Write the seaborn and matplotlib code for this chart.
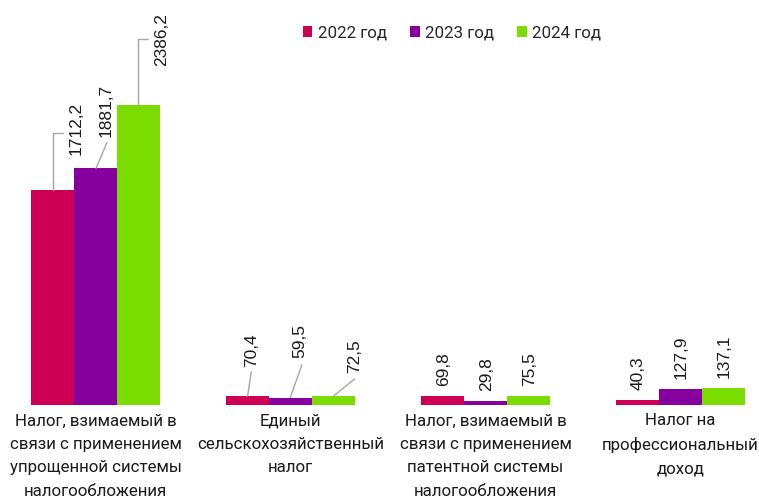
import pandas as pd
import seaborn as sns
import matplotlib.pyplot as plt
import numpy as np

# data
categories = ["Налог, взимаемый в\nсвязи с применением\nупрощенной системы\nналогообложения",
              "Единый\nсельскохозяйственный\nналог",
              "Налог, взимаемый в\nсвязи с применением\nпатентной системы\nналогообложения",
              "Налог на\nпрофессиональный\nдоход"]
years = ["2022 год", "2023 год", "2024 год"]
v2022 = [1712.2, 70.4, 69.8, 40.3]
v2023 = [1881.7, 59.5, 29.8, 127.9]
v2024 = [2386.2, 72.5, 75.5, 137.1]
colors = ["#CE0055", "#85009F", "#7BDC00"]

df = pd.DataFrame({
    "cat": categories * 3,
    "year": [y for y in years for _ in categories],
    "value": v2022 + v2023 + v2024,
})

sns.set_style("white")
plt.rcParams["font.family"] = ["Roboto", "DejaVu Sans"]

fig = plt.figure(figsize=(7.59, 4.96), dpi=100)
ax = fig.add_axes([0, 91 / 496, 1, 405 / 496])

sns.barplot(data=df, x="cat", y="value", hue="year", hue_order=years,
            palette=colors, width=0.66, saturation=1, linewidth=0, ax=ax)

ax.set_xlim(-0.4897, 3.4026)
ax.set_ylim(0, 3221.5)
sns.despine(ax=ax, left=True, bottom=True)
ax.set_yticks([])
ax.set_xlabel("")
ax.set_ylabel("")
ax.set_xticks(range(len(categories)))
ax.set_xticklabels(categories, fontsize=12.2, color="#1a1a1a", linespacing=1.7)
ax.tick_params(axis="x", length=0, pad=6)

# label offsets in pixels (dx, dy) and leader paths (pixel offsets from bar top)
offsets = {
    (0, 0): ((24, 35), [(0, 0), (0, 57), (10.5, 57)]),
    (1, 0): ((11, 31), [(0.5, 0), (11.5, 26)]),
    (2, 0): ((23, 39.5), [(0, 0), (0, 66), (9.5, 66)]),
    (0, 1): ((4.4, 29.4), [(0, 0), (3.7, 24.5)]),
    (1, 1): ((9.7, 39.5), [(-0.3, 0), (11.4, 32.5)]),
    (2, 1): ((21.3, 22.6), [(0.3, 0), (21.3, 17)]),
}

fig.canvas.draw()
for i, cont in enumerate(ax.containers):
    for j, bar in enumerate(cont):
        x = bar.get_x() + bar.get_width() / 2
        h = bar.get_height()
        (dx, dy), path = offsets.get((i, j), ((1, 10), None))
        ax.annotate(f"{h:.1f}".replace(".", ","), xy=(x, h), xycoords="data",
                    xytext=(dx, dy), textcoords="offset pixels",
                    rotation=90, ha="center", va="bottom",
                    fontsize=12.5, family=["Liberation Sans", "DejaVu Sans"],
                    color="#1a1a1a")
        if path:
            p = ax.transData.transform((x, h))
            pts = ax.transData.inverted().transform(np.array(path) + p)
            ax.plot(pts[:, 0], pts[:, 1], color="#A6A6A6", lw=1, clip_on=False)

handles, labels = ax.get_legend_handles_labels()
ax.legend(handles, labels, loc="center", bbox_to_anchor=(452 / 759, 1 - 33 / 496),
          bbox_transform=fig.transFigure, ncol=3, frameon=False, fontsize=12.2,
          handlelength=0.55, handleheight=0.55, handletextpad=0.3,
          columnspacing=1.4, borderpad=0)

fig.savefig("out.png", dpi=100)
